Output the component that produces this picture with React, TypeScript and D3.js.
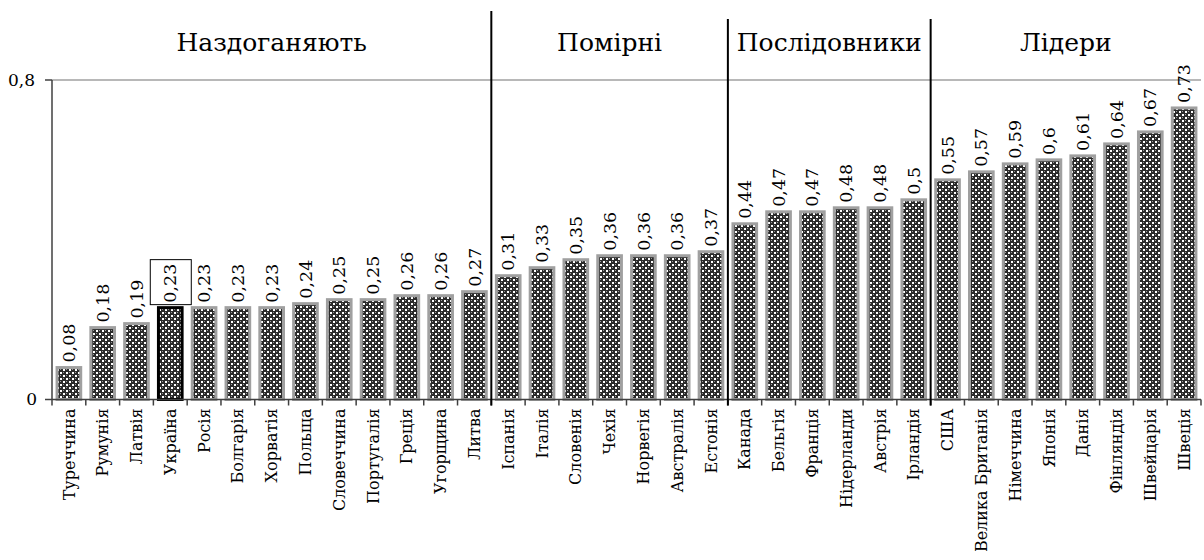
import React from 'react';
import * as d3 from 'd3';

// countries in the order they stand on the chart
const countries = [
  'Туреччина', 'Румунія', 'Латвія', 'Україна', 'Росія', 'Болгарія', 'Хорватія', 'Польща',
  'Словеччина', 'Португалія', 'Греція', 'Угорщина', 'Литва',
  'Іспанія', 'Італія', 'Словенія', 'Чехія', 'Норвегія', 'Австралія', 'Естонія',
  'Канада', 'Бельгія', 'Франція', 'Нідерланди', 'Австрія', 'Ірландія',
  'США', 'Велика Британія', 'Німеччина', 'Японія', 'Данія', 'Фінляндія', 'Швейцарія', 'Швеція'
];
const values = [
  0.08, 0.18, 0.19, 0.23, 0.23, 0.23, 0.23, 0.24, 0.25, 0.25, 0.26, 0.26, 0.27,
  0.31, 0.33, 0.35, 0.36, 0.36, 0.36, 0.37,
  0.44, 0.47, 0.47, 0.48, 0.48, 0.5,
  0.55, 0.57, 0.59, 0.6, 0.61, 0.64, 0.67, 0.73
];
// groups: label and first / last country index
const groups = [
  { name: 'Наздоганяють', from: 0, to: 12 },
  { name: 'Помірні', from: 13, to: 19 },
  { name: 'Послідовники', from: 20, to: 25 },
  { name: 'Лідери', from: 26, to: 33 }
];
const yTicks = [0, 0.8];
const highlighted = 'Україна';

const config = {
  width: 1204,
  height: 560,
  left: 52,
  right: 1201,
  top: 80,
  bottom: 399.5,
  font: 'DejaVu Serif'
};

const fmt = (v: number) => String(v).replace('.', ',');

export default function App() {
  const { width, height, left, right, top, bottom, font } = config;
  const x = d3.scaleBand<string>().domain(countries).range([left, right]).paddingInner(0.3).paddingOuter(0.15);
  const y = d3.scaleLinear().domain([0, 0.8]).range([bottom, top]);
  const step = x.step();
  const edge = (i: number) => left + i * step;

  return (
    <svg width={width} height={height} style={{ position: 'absolute', left: 0, top: 0 }} fontFamily={font}>
      <defs>
        <pattern id="dots" width="6" height="6" patternUnits="userSpaceOnUse">
          <rect width="6" height="6" fill="#2a2a2a" />
          <rect x="0" y="0" width="2" height="2" fill="#ffffff" />
          <rect x="3" y="3" width="2" height="2" fill="#ffffff" />
          <rect x="3" y="0" width="1" height="1" fill="#9a9a9a" />
          <rect x="0" y="3" width="1" height="1" fill="#9a9a9a" />
        </pattern>
      </defs>

      {/* gridline at top */}
      <line x1={left} x2={right} y1={y(0.8)} y2={y(0.8)} stroke="#a0a0a0" strokeWidth={1.5} />

      {/* bars */}
      {countries.map((c, i) => {
        const isHl = c === highlighted;
        return (
          <rect key={c} x={x(c)} y={y(values[i])} width={x.bandwidth()} height={y(0) - y(values[i])}
            fill="url(#dots)" stroke={isHl ? '#000' : '#a0a0a0'} strokeWidth={3} />
        );
      })}

      {/* axes */}
      <line x1={left} x2={left} y1={y(0.8)} y2={y(0)} stroke="#404040" strokeWidth={1.5} />
      <line x1={left - 7} x2={right} y1={y(0)} y2={y(0)} stroke="#404040" strokeWidth={1.5} />
      <line x1={left - 7} x2={left} y1={y(0.8)} y2={y(0.8)} stroke="#404040" strokeWidth={1.5} />
      {d3.range(countries.length + 1).map(i => (
        <line key={i} x1={edge(i)} x2={edge(i)} y1={y(0)} y2={y(0) + 6} stroke="#404040" strokeWidth={1.5} />
      ))}
      {yTicks.map(t => (
        <text key={t} x={t === 0 ? left - 15 : left - 17} y={y(t)} dy="0.35em" textAnchor="end" fontSize={17}>{fmt(t)}</text>
      ))}

      {/* value labels */}
      {countries.map((c, i) => {
        const cx = x(c)! + x.bandwidth() / 2;
        const ty = y(values[i]) - 5;
        return (
          <g key={c}>
            {c === highlighted && (
              <rect x={cx - 20} y={ty - 43} width={41} height={45} fill="none" stroke="#000" strokeWidth={1} />
            )}
            <text transform={`translate(${cx},${ty}) rotate(-90)`} dy="0.35em" fontSize={17.5}>{fmt(values[i])}</text>
          </g>
        );
      })}

      {/* category labels */}
      {countries.map(c => {
        const cx = x(c)! + x.bandwidth() / 2;
        return (
          <text key={c} transform={`translate(${cx},${y(0) + 9}) rotate(-90)`} dy="0.35em" textAnchor="end" fontSize={16}>{c}</text>
        );
      })}

      {/* group separators and names */}
      {groups.map((g, gi) => {
        const x0 = edge(g.from);
        const x1 = edge(g.to + 1);
        return (
          <g key={g.name}>
            {gi > 0 && (
              <line x1={x0} x2={x0} y1={gi === 1 ? 11 : 19} y2={y(0) + 6} stroke="#000" strokeWidth={2} />
            )}
            <text x={(x0 + x1) / 2} y={51} textAnchor="middle" fontSize={25}>{g.name}</text>
          </g>
        );
      })}
    </svg>
  );
}
